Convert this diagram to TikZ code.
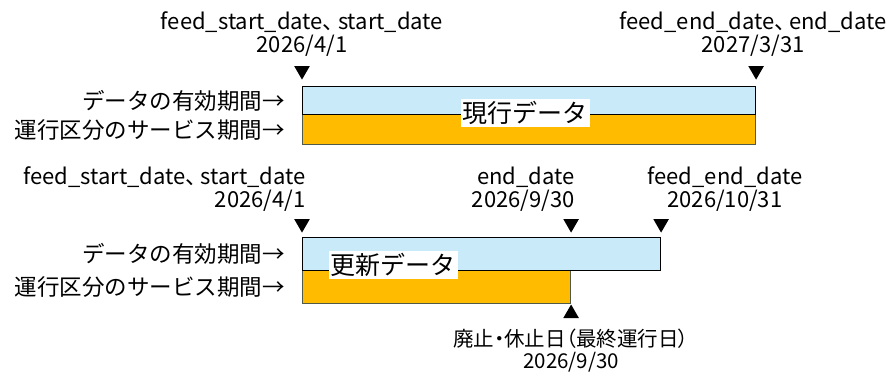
\documentclass[tikz,border=0pt]{standalone}
\usepackage{fontspec}
\setmainfont{Noto Sans CJK JP}
\newfontfamily\pfont[RawFeature=+palt]{Noto Sans CJK JP}
\newcommand{\jcomma}{、\kern4pt}
\usetikzlibrary{positioning, shapes.geometric}

\definecolor{validblue}{HTML}{C9EAF8}
\definecolor{serviceorange}{HTML}{FFBB00}
\definecolor{edgegray}{HTML}{4F5A48}

\begin{document}
\begin{tikzpicture}[x=1pt, y=-1pt,
                every node/.style={font=\fontsize{22.5}{23}\selectfont, inner sep=1pt},
                period/.style={anchor=north west, inner sep=0pt, line width=1.1pt},
                valid/.style={period, draw=black, fill=validblue},
                service/.style={period, draw=edgegray, fill=serviceorange},
                rowlabel/.style={anchor=east},
                datelabel/.style={align=center, font=\pfont\fontsize{22}{23}\selectfont},
                notelabel/.style={align=center, font=\pfont\fontsize{20.5}{22}\selectfont},
                tag/.style={fill=white, inner sep=2pt, font=\fontsize{25}{28}\selectfont},
                downmark/.style={fill=black, regular polygon, regular polygon sides=3,
                        shape border rotate=180, inner sep=0pt, minimum size=18pt},
                upmark/.style={fill=black, regular polygon, regular polygon sides=3,
                        inner sep=0pt, minimum size=18pt},
            ]
            \useasboundingbox (0,0) rectangle (892,376);

            % current data
            \node[service, minimum width=453pt, minimum height=30pt] (cur_service) at (302,114) {};
            \node[valid, minimum width=453pt, minimum height=28pt] (cur_valid) at (302,86) {};
            \node[tag] (cur_tag) at (525,113) {現行データ};

            \node[rowlabel, left=16pt of cur_valid.west] (cur_valid_label) {データの有効期間→};
            \node[rowlabel, left=16pt of cur_service.west] (cur_service_label) {運行区分のサービス期間→};

            \node[downmark, above=6pt of cur_valid.north west] (cur_start_mark) {};
            \node[downmark, above=6pt of cur_valid.north east] (cur_end_mark) {};
            \node[datelabel, above=8pt of cur_start_mark] (cur_start) {feed\_start\_date\jcomma start\_date\\2026/4/1};
            \node[datelabel, above=8pt of cur_end_mark, xshift=-3pt] (cur_end) {feed\_end\_date\jcomma end\_date\\2027/3/31};

            % updated data
            \node[service, minimum width=268pt, minimum height=33pt] (new_service) at (302,270) {};
            \node[valid, minimum width=358pt, minimum height=33pt] (new_valid) at (302,237) {};
            \node[tag] (new_tag) at (393,265) {更新データ};

            \node[rowlabel, left=16pt of new_valid.west] (new_valid_label) {データの有効期間→};
            \node[rowlabel, left=16pt of new_service.west] (new_service_label) {運行区分のサービス期間→};

            \node[downmark, above=4pt of new_valid.north west] (new_start_mark) {};
            \node[downmark, above=4pt of new_service.north east |- new_valid.north] (new_enddate_mark) {};
            \node[downmark, above=4pt of new_valid.north east] (new_end_mark) {};
            \node[upmark, below=0pt of new_service.south east] (new_last_mark) {};

            \node[datelabel, align=right, above=6pt of new_start_mark.north east, anchor=south east] (new_start) {feed\_start\_date\jcomma start\_date\\2026/4/1};
            \node[datelabel, align=right, above=6pt of new_enddate_mark.north east, anchor=south east] (new_enddate) {end\_date\\2026/9/30};
            \node[datelabel, above=6pt of new_end_mark.north west, anchor=south west, xshift=-10pt] (new_end) {feed\_end\_date\\2026/10/31};
            \node[notelabel, below=10pt of new_last_mark] (new_last) {廃止・休止日（最終運行日）\\2026/9/30};
\end{tikzpicture}
\end{document}
